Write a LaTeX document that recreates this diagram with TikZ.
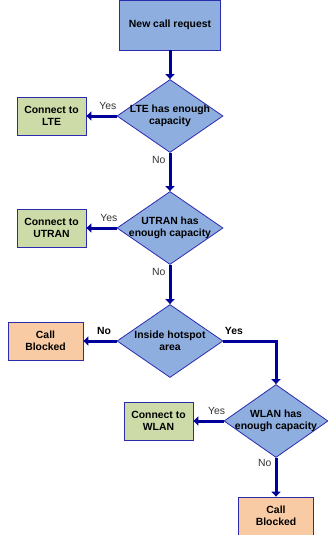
\documentclass[tikz,border=0pt]{standalone}
\usepackage{fontspec}
\setmainfont{Liberation Sans}
\usetikzlibrary{positioning}
\usetikzlibrary{shapes.geometric}
\usetikzlibrary{arrows.meta}

\definecolor{flowblue}{HTML}{8EAEDF}
\definecolor{okgreen}{HTML}{CCDBA8}
\definecolor{blockorange}{HTML}{F9CBA4}
\definecolor{edgeblue}{HTML}{2B2BAE}
\definecolor{arrowblue}{HTML}{00009A}
\definecolor{anscol}{HTML}{333333}

\tikzset{
   boxfont/.style={font=\fontsize{10.4}{11.6}\selectfont\bfseries},
   procbox/.style={rectangle, draw=edgeblue, line width=0.8pt, fill=flowblue,
      align=center, inner sep=0pt, boxfont},
   okbox/.style={procbox, fill=okgreen, minimum width=69pt, minimum height=38pt},
   blockbox/.style={procbox, fill=blockorange, minimum width=75pt, minimum height=38pt},
   decide/.style={diamond, draw=edgeblue, line width=0.8pt, fill=flowblue,
      minimum width=106pt, minimum height=73pt, inner sep=0pt},
   dtext/.style={align=center, inner sep=0pt, boxfont},
   flow/.style={draw=arrowblue, line width=3pt, -{Triangle[length=5pt,width=9pt]}},
   ans/.style={font=\fontsize{10.4}{11.6}\selectfont, text=anscol, inner sep=1pt},
   ansbold/.style={ans, boxfont, text=black}
}

\begin{document}
\begin{tikzpicture}[x=1pt,y=-1pt,on grid]
   \useasboundingbox (0,0) rectangle (328,535);

   % start
   \node[procbox, minimum width=101pt, minimum height=50pt] (req) at (170,25)
   {New call request};

   % LTE check
   \node[decide, below=91pt of req,
   label={[dtext]center:{LTE has enough\\capacity}}] (lte) {};
   \node[okbox, left=118.5pt of lte] (lteok) {Connect to\\LTE};

   % UTRAN check
   \node[decide, below=112pt of lte,
   label={[dtext]center:{UTRAN has\\enough capacity}}] (utran) {};
   \node[okbox, left=118.5pt of utran] (utranok) {Connect to\\UTRAN};

   % hotspot check
   \node[decide, below=113pt of utran,
   label={[dtext]center:{Inside hotspot\\area}}] (spot) {};
   \node[blockbox, left=124.5pt of spot] (blk1) {Call\\Blocked};

   % WLAN check
   \node[decide, minimum width=104pt, below right=80pt and 106pt of spot,
   label={[dtext]center:{WLAN has\\enough capacity}}] (wlan) {};
   \node[okbox, left=117.5pt of wlan] (wlanok) {Connect to\\WLAN};
   \node[blockbox, below=95pt of wlan] (blk2) {Call\\Blocked};

   \draw[flow] (req) -- (lte);
   \draw[flow] (lte) -- node[ans, pos=0.29, above=4pt] {Yes} (lteok);
   \draw[flow] (lte) -- node[ans, pos=0.19, left=2pt] {No} (utran);
   \draw[flow] (utran) -- node[ans, pos=0.26, above=4pt] {Yes} (utranok);
   \draw[flow] (utran) -- node[ans, pos=0.19, left=2pt] {No} (spot);
   \draw[flow] (spot) -- node[ansbold, pos=0.38, above=4pt] {No} (blk1);
   \draw[flow] (spot.east) -| node[ansbold, pos=0.1, above=4pt] {Yes} (wlan.north);
   \draw[flow] (wlan) -- node[ans, pos=0.23, above=4pt] {Yes} (wlanok);
   \draw[flow] (wlan) -- node[ans, pos=0.14, left=2pt] {No} (blk2);
\end{tikzpicture}
\end{document}
